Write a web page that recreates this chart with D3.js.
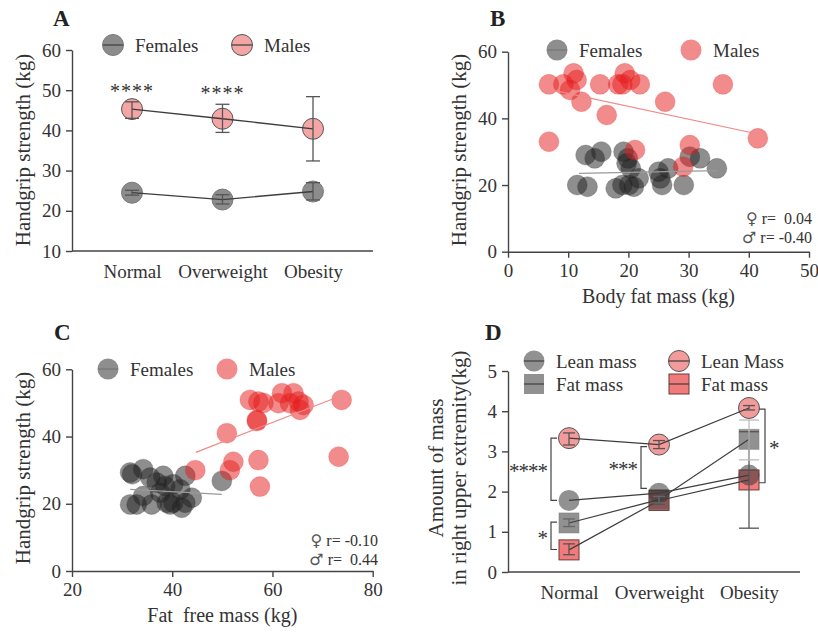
<!DOCTYPE html>
<html>
<head>
<meta charset="utf-8">
<script src="https://cdn.jsdelivr.net/npm/d3@7"></script>
<style>
  body { margin: 0; background: #fff; }
  svg text { font-family: "Liberation Serif", "DejaVu Serif", serif; fill: #333; }
  .axis path, .axis line, .base { stroke: #444; stroke-width: 1.4; fill: none; }
  .axis text { font-size: 19px; fill: #333; font-family: "Liberation Serif", "DejaVu Serif", serif; }
</style>
</head>
<body>
<svg id="chart" width="818" height="632"></svg>
<script>
// ---- data ----
const groups = ["Normal", "Overweight", "Obesity"];

// A: handgrip strength by BMI group
const gripMale = [45.3, 42.9, 40.4];
const gripMaleLo = [43.0, 39.5, 32.4];
const gripMaleHi = [47.1, 46.5, 48.4];
const gripFemale = [24.5, 22.8, 24.8];
const gripFemaleLo = [23.9, 21.7, 22.7];
const gripFemaleHi = [25.1, 24.0, 27.0];

// B: body fat mass vs handgrip
const bFemaleFat = [11.5, 13.2, 12.9, 14.4, 15.5, 17.9, 19.0, 19.2, 19.7, 19.9, 20.4, 20.1, 20.9, 21.7, 25.0, 25.3, 25.6, 26.6, 29.2, 30.2, 31.9, 34.7];
const bFemaleGrip = [20, 19.5, 29, 28, 30, 19, 20, 30, 26.5, 28, 25, 20, 19.5, 22, 24, 22, 20, 25, 20, 28.5, 28, 25];
const bMaleFat = [6.8, 9.2, 10.9, 11.4, 10.3, 12.2, 15.3, 16.4, 18.3, 19.0, 19.4, 20.3, 21.9, 26.1, 35.7, 41.5, 6.8, 21.1, 30.2, 29.1];
const bMaleGrip = [50.2, 50.2, 53.5, 51.5, 48.5, 45, 50.2, 41, 50.2, 50.2, 53.5, 51.5, 50.2, 45, 50.2, 34, 33, 30.5, 32, 25.5];
const bFemaleFit = [[11.8, 23.5], [34.7, 24.3]];
const bMaleFit = [[6.8, 48.7], [41.5, 35.3]];

// C: fat free mass vs handgrip
const cFemaleFfm = [31.6, 32.0, 34.2, 35.6, 36.9, 38.2, 38.6, 40.2, 42.6, 41.6, 31.6, 32.9, 34.2, 35.9, 37.6, 38.9, 39.6, 40.2, 41.9, 42.6, 43.9, 49.9];
const cFemaleGrip = [29.3, 28.8, 30.3, 27.8, 26.3, 28.3, 25.3, 25.8, 28.3, 24.3, 19.8, 19.8, 22.3, 19.8, 23.3, 20.3, 19.8, 20.3, 18.8, 20.3, 21.8, 26.8];
const cMaleFfm = [55.5, 57.2, 58.2, 56.9, 56.9, 61.9, 64.2, 61.2, 63.5, 65.2, 66.2, 65.5, 73.8, 50.9, 52.2, 51.5, 57.2, 57.5, 73.2, 44.6];
const cMaleGrip = [50.9, 50.4, 50.0, 44.9, 44.6, 52.9, 52.9, 49.9, 49.9, 50.4, 49.4, 47.9, 50.9, 41.0, 32.5, 30.0, 33.0, 25.1, 34.0, 30.0];
const cFemaleFit = [[31.6, 24.3], [49.9, 22.8]];
const cMaleFit = [[44.7, 35.3], [73.8, 52.2]];

// D: mass in right upper extremity
const leanF = [1.78, 1.96, 2.41], leanFLo = [1.72, 1.90, 2.35], leanFHi = [1.84, 2.02, 2.47];
const leanM = [3.33, 3.17, 4.08], leanMLo = [3.16, 3.07, 4.03], leanMHi = [3.46, 3.27, 4.14];
const fatF = [1.22, 1.80, 3.30], fatFLo = [1.13, 1.72, 2.79], fatFHi = [1.32, 1.88, 3.78];
const fatM = [0.55, 1.78, 2.29], fatMLo = [0.43, 1.68, 1.09], fatMHi = [0.70, 1.88, 3.49];
const dSig = [
  { group: "Normal", top: 3.33, bottom: 1.78, label: "****", side: -1 },
  { group: "Normal", top: 1.24, bottom: 0.56, label: "*", side: -1 },
  { group: "Overweight", top: 3.12, bottom: 2.08, label: "***", side: -1 },
  { group: "Obesity", top: 4.05, bottom: 2.22, label: "*", side: 1 }
];

const svg = d3.select("#chart");
svg.append("rect").attr("width", 818).attr("height", 632).attr("fill", "#fff");

const LINE = "#3d3d3d";

function panelLetter(x, y, t) {
  svg.append("text").attr("x", x).attr("y", y).text(t)
    .style("font-size", "23px").style("font-weight", "bold").style("fill", "#222");
}
function yTitle(x, y, t) {
  svg.append("text").attr("transform", `translate(${x},${y}) rotate(-90)`)
    .attr("text-anchor", "middle").style("font-size", "21px").text(t);
}
function errBar(g, x, lo, hi, cap, color) {
  g.append("line").attr("x1", x).attr("x2", x).attr("y1", lo).attr("y2", hi)
    .attr("stroke", color).attr("stroke-width", 1.3);
  [lo, hi].forEach(v => g.append("line").attr("x1", x - cap).attr("x2", x + cap)
    .attr("y1", v).attr("y2", v).attr("stroke", color).attr("stroke-width", 1.3));
}
function legendItem(g, x, y, shape, fill, stroke, lineColor, label) {
  if (shape === "circle") {
    g.append("circle").attr("cx", x).attr("cy", y).attr("r", 10.5)
      .attr("fill", fill).attr("stroke", stroke).attr("stroke-width", 1);
  } else {
    g.append("rect").attr("x", x - 10).attr("y", y - 10).attr("width", 20).attr("height", 20)
      .attr("fill", fill).attr("stroke", stroke).attr("stroke-width", 1);
  }
  g.append("line").attr("x1", x - 10).attr("x2", x + 10).attr("y1", y).attr("y2", y)
    .attr("stroke", lineColor).attr("stroke-width", 1.3);
  g.append("text").attr("x", x + 22).attr("y", y + 6.5).style("font-size", "19px").text(label);
}

// ---------------- Panel A ----------------
{
  const x = d3.scalePoint().domain(groups).range([132, 313]);
  const y = d3.scaleLinear().domain([10, 60]).range([251, 50]);
  const g = svg.append("g");
  g.append("g").attr("class", "axis").attr("transform", "translate(72,0)")
    .call(d3.axisLeft(y).tickValues([10, 20, 30, 40, 50, 60]).tickSize(6).tickSizeOuter(0).tickPadding(5));
  g.append("line").attr("class", "base").attr("x1", 72).attr("x2", 373).attr("y1", y(10)).attr("y2", y(10));
  g.append("g").attr("class", "axis").attr("transform", `translate(0,${y(10)})`)
    .call(d3.axisBottom(x).tickSize(0).tickPadding(14))
    .call(a => a.select(".domain").remove());

  const line = d3.line().x((d, i) => x(groups[i])).y(d => y(d));
  g.selectAll(".fA").data(gripFemale).enter().append("circle")
    .attr("cx", (d, i) => x(groups[i])).attr("cy", d => y(d)).attr("r", 10.5)
    .attr("fill", "#8c8c8c").attr("stroke", "#7a7a7a");
  g.selectAll(".mA").data(gripMale).enter().append("circle")
    .attr("cx", (d, i) => x(groups[i])).attr("cy", d => y(d)).attr("r", 10.5)
    .attr("fill", "#f4a6a6").attr("stroke", "#555");
  g.append("path").datum(gripFemale).attr("d", line).attr("fill", "none").attr("stroke", LINE).attr("stroke-width", 1.3);
  g.append("path").datum(gripMale).attr("d", line).attr("fill", "none").attr("stroke", LINE).attr("stroke-width", 1.3);
  groups.forEach((k, i) => {
    errBar(g, x(k), y(gripMaleLo[i]), y(gripMaleHi[i]), 7, "#555");
    errBar(g, x(k), y(gripFemaleLo[i]), y(gripFemaleHi[i]), 7, "#555");
  });
  g.append("text").attr("x", x("Normal")).attr("y", y(gripMaleHi[0]) - 4).attr("text-anchor", "middle")
    .style("font-size", "20px").style("letter-spacing", "1px").text("****");
  g.append("text").attr("x", x("Overweight")).attr("y", y(gripMaleHi[1]) - 4).attr("text-anchor", "middle")
    .style("font-size", "20px").style("letter-spacing", "1px").text("****");

  legendItem(g, 113, 45, "circle", "#8c8c8c", "#7a7a7a", "#444", "Females");
  legendItem(g, 242, 45, "circle", "#f4a6a6", "#555", "#444", "Males");
  panelLetter(53, 26, "A");
  yTitle(30, 150, "Handgrip strength (kg)");
}

// ---------------- scatter helper (B, C) ----------------
function scatterPanel(opt) {
  const x = d3.scaleLinear().domain(opt.xDomain).range(opt.xRange);
  const y = d3.scaleLinear().domain([0, 60]).range(opt.yRange);
  const g = svg.append("g");
  g.append("g").attr("class", "axis").attr("transform", `translate(${opt.xRange[0]},0)`)
    .call(d3.axisLeft(y).tickValues([0, 20, 40, 60]).tickSize(6).tickSizeOuter(0).tickPadding(5));
  g.append("g").attr("class", "axis").attr("transform", `translate(0,${opt.yRange[0]})`)
    .call(d3.axisBottom(x).tickValues(opt.xTicks).tickSize(6).tickSizeOuter(0).tickPadding(6));

  g.selectAll(".f").data(opt.fx).enter().append("circle")
    .attr("cx", d => x(d)).attr("cy", (d, i) => y(opt.fy[i])).attr("r", 10)
    .attr("fill", "rgba(30,30,30,0.5)").attr("stroke", "rgba(60,60,60,0.25)");
  g.selectAll(".m").data(opt.mx).enter().append("circle")
    .attr("cx", d => x(d)).attr("cy", (d, i) => y(opt.my[i])).attr("r", 10)
    .attr("fill", "rgba(230,25,25,0.5)").attr("stroke", "rgba(230,25,25,0.2)");
  const fit = d3.line().x(d => x(d[0])).y(d => y(d[1]));
  g.append("path").datum(opt.fFit).attr("d", fit).attr("fill", "none").attr("stroke", "#9a9a9a").attr("stroke-width", 1.2);
  g.append("path").datum(opt.mFit).attr("d", fit).attr("fill", "none").attr("stroke", "#f08a8a").attr("stroke-width", 1.2);

  legendItem(g, opt.legF[0], opt.legF[1], "circle", "rgba(30,30,30,0.5)", "none", "#777", "Females");
  legendItem(g, opt.legM[0], opt.legM[1], "circle", "rgba(230,25,25,0.5)", "none", "#f08a8a", "Males");

  opt.rText.forEach((t, i) => {
    const tx = g.append("text").attr("x", opt.rPos[0]).attr("y", opt.rPos[1] + i * 19)
      .attr("text-anchor", "end").style("font-size", "16px").style("white-space", "pre");
    tx.append("tspan").style("font-size", "16px").style("font-family", "'DejaVu Sans'")
      .style("fill", "#555").text(t[0]);
    tx.append("tspan").text(t[1]);
  });
  g.append("text").attr("x", (opt.xRange[0] + opt.xRange[1]) / 2).attr("y", opt.yRange[0] + 51)
    .attr("text-anchor", "middle").style("font-size", "20px").style("white-space", "pre").text(opt.xTitle);
}

scatterPanel({
  xDomain: [0, 50], xRange: [508, 809], yRange: [251.7, 51.7], xTicks: [0, 10, 20, 30, 40, 50],
  fx: bFemaleFat, fy: bFemaleGrip, mx: bMaleFat, my: bMaleGrip, fFit: bFemaleFit, mFit: bMaleFit,
  legF: [557, 50], legM: [691, 50], rText: [["\u2640", " r=  0.04"], ["\u2642", " r= -0.40"]], rPos: [812, 224],
  xTitle: "Body fat mass (kg)"
});
panelLetter(490, 26, "B");
yTitle(466, 150, "Handgrip strength (kg)");

scatterPanel({
  xDomain: [20, 80], xRange: [72, 372.7], yRange: [571, 369.3], xTicks: [20, 40, 60, 80],
  fx: cFemaleFfm, fy: cFemaleGrip, mx: cMaleFfm, my: cMaleGrip, fFit: cFemaleFit, mFit: cMaleFit,
  legF: [108, 369], legM: [227, 369], rText: [["\u2640", " r= -0.10"], ["\u2642", " r=  0.44"]], rPos: [378, 546],
  xTitle: "Fat  free mass (kg)"
});
panelLetter(54, 340, "C");
yTitle(30, 468, "Handgrip strength (kg)");

// ---------------- Panel D ----------------
{
  const x = d3.scalePoint().domain(groups).range([569, 749]);
  const y = d3.scaleLinear().domain([0, 5]).range([572, 371]);
  const g = svg.append("g");
  g.append("g").attr("class", "axis").attr("transform", "translate(508,0)")
    .call(d3.axisLeft(y).tickValues([0, 1, 2, 3, 4, 5]).tickFormat(d3.format("d")).tickSize(6).tickSizeOuter(0).tickPadding(5));
  g.append("line").attr("class", "base").attr("x1", 508).attr("x2", 800).attr("y1", y(0)).attr("y2", y(0));
  g.append("g").attr("class", "axis").attr("transform", `translate(0,${y(0)})`)
    .call(d3.axisBottom(x).tickSize(0).tickPadding(14))
    .call(a => a.select(".domain").remove());

  const px = i => x(groups[i]);
  // male fat (red squares) under the grey symbols
  g.selectAll(".fm").data(fatM).enter().append("rect")
    .attr("x", (d, i) => px(i) - 10).attr("y", d => y(d) - 10).attr("width", 20).attr("height", 20)
    .attr("fill", "rgba(236,70,70,0.72)").attr("stroke", "#6a3a3a");
  g.selectAll(".lm").data(leanM).enter().append("circle")
    .attr("cx", (d, i) => px(i)).attr("cy", d => y(d)).attr("r", 10.5)
    .attr("fill", "#f39a9a").attr("stroke", "#555");
  g.selectAll(".ff").data(fatF).enter().append("rect")
    .attr("x", (d, i) => px(i) - 10).attr("y", d => y(d) - 10).attr("width", 20).attr("height", 20)
    .attr("fill", "rgba(55,55,55,0.55)").attr("stroke", "rgba(120,120,120,0.5)");
  g.selectAll(".lf").data(leanF).enter().append("circle")
    .attr("cx", (d, i) => px(i)).attr("cy", d => y(d)).attr("r", 10.5)
    .attr("fill", "rgba(55,55,55,0.55)").attr("stroke", "none");

  const line = d3.line().x((d, i) => px(i)).y(d => y(d));
  [leanM, leanF, fatF, fatM].forEach(s => g.append("path").datum(s).attr("d", line)
    .attr("fill", "none").attr("stroke", LINE).attr("stroke-width", 1.2));

  groups.forEach((k, i) => {
    errBar(g, px(i), y(leanMLo[i]), y(leanMHi[i]), 6, "#555");
    errBar(g, px(i), y(fatMLo[i]), y(fatMHi[i]), i === 2 ? 10 : 6, "#555");
    errBar(g, px(i), y(fatFLo[i]), y(fatFHi[i]), i === 2 ? 10 : 6, i === 2 ? "#bdbdbd" : "#666");
  });

  dSig.forEach(s => {
    const bx = x(s.group) + s.side * (s.side < 0 ? 18 : 16);
    const tick = -s.side * 6;
    g.append("path")
      .attr("d", `M${bx + tick},${y(s.top)}H${bx}V${y(s.bottom)}H${bx + tick}`)
      .attr("fill", "none").attr("stroke", "#444").attr("stroke-width", 1.2);
    g.append("text").attr("x", bx + s.side * 4).attr("y", (y(s.top) + y(s.bottom)) / 2 + 9)
      .attr("text-anchor", s.side < 0 ? "end" : "start")
      .style("font-size", "21px").style("letter-spacing", "-1px").text(s.label);
  });

  legendItem(g, 534, 361, "circle", "rgba(55,55,55,0.55)", "none", "#444", "Lean mass");
  legendItem(g, 534, 384, "rect", "rgba(55,55,55,0.55)", "none", "#444", "Fat mass");
  legendItem(g, 679, 361, "circle", "#f39a9a", "#555", "#444", "Lean Mass");
  legendItem(g, 679, 384, "rect", "rgba(236,70,70,0.72)", "#6a3a3a", "#444", "Fat mass");

  panelLetter(485, 340, "D");
  svg.append("text").attr("transform", "translate(443,468) rotate(-90)")
    .attr("text-anchor", "middle").style("font-size", "21px").text("Amount of mass");
  svg.append("text").attr("transform", "translate(466,468) rotate(-90)")
    .attr("text-anchor", "middle").style("font-size", "21px").text("in right upper extremity(kg)");
}
</script>
</body>
</html>
